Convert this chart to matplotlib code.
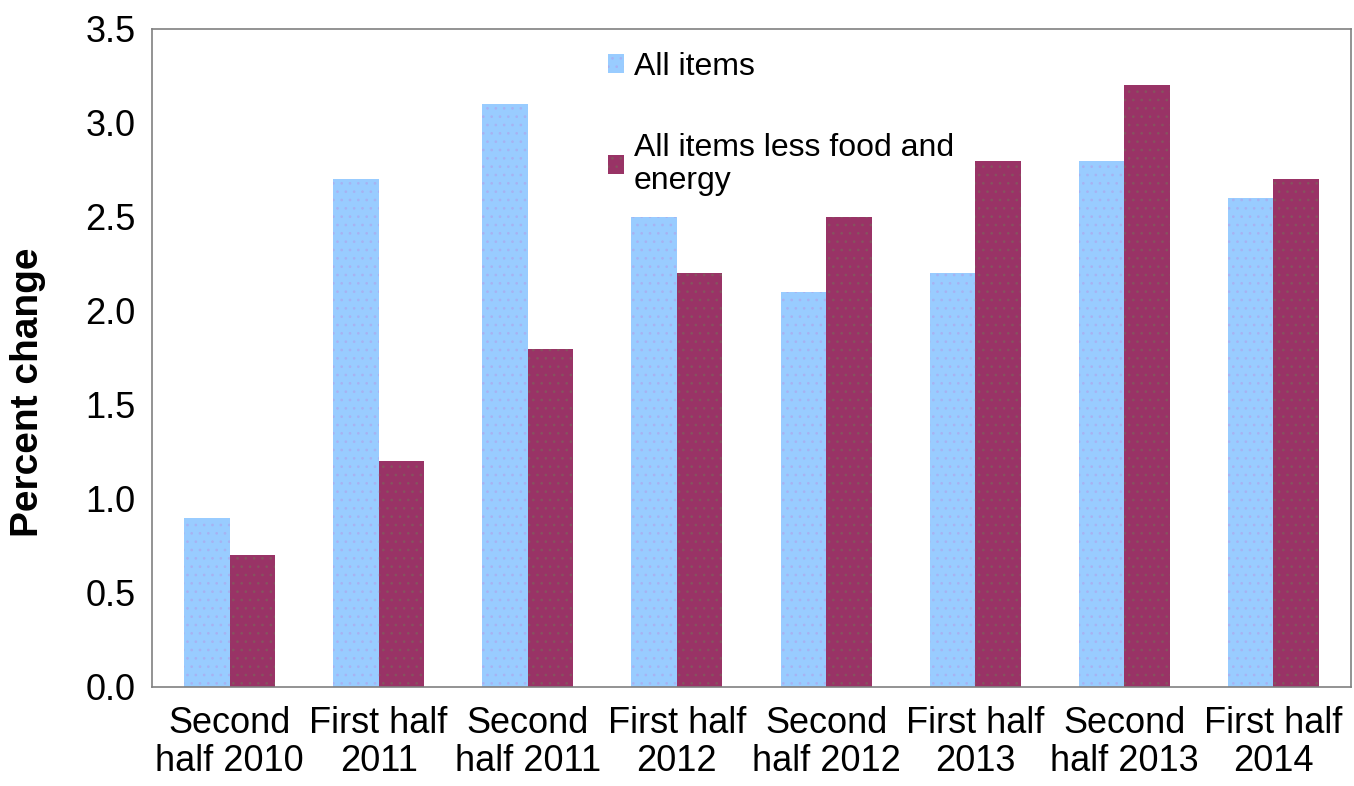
import matplotlib.pyplot as plt
import numpy as np

plt.rcParams['font.family'] = ['Liberation Sans', 'DejaVu Sans']
plt.rcParams['hatch.linewidth'] = 0.7

categories = ['Second\nhalf 2010', 'First half\n2011', 'Second\nhalf 2011', 'First half\n2012',
              'Second\nhalf 2012', 'First half\n2013', 'Second\nhalf 2013', 'First half\n2014']
all_items = [0.9, 2.7, 3.1, 2.5, 2.1, 2.2, 2.8, 2.6]
core_items = [0.7, 1.2, 1.8, 2.2, 2.5, 2.8, 3.2, 2.7]

x = np.arange(len(categories))
w = 0.305

fig = plt.figure(figsize=(13.54, 7.86), dpi=100)
ax = fig.add_axes([152 / 1354, 1 - 687 / 786, 1199 / 1354, 658 / 786])

ax.bar(x - w / 2, all_items, w, color='#99ccff', edgecolor='#a7b2f2', linewidth=0,
       hatch='..', label='All items')
ax.bar(x + w / 2, core_items, w, color='#993366', edgecolor='#86545f', linewidth=0,
       hatch='..', label='All items less food and\nenergy')

ax.set_xlim(-0.52, len(categories) - 0.48)
ax.set_ylim(0, 3.5)
ax.set_yticks(np.arange(0, 3.51, 0.5))
ax.set_yticklabels([f'{v:.1f}' for v in np.arange(0, 3.51, 0.5)], fontsize=26)
ax.set_xticks(x)
ax.set_xticklabels(categories, fontsize=26, linespacing=1.1)
ax.tick_params(length=0, pad=14)
ax.tick_params(axis='y', pad=12)

ax.set_ylabel('Percent change', fontsize=28, fontweight='bold')
ax.yaxis.set_label_coords(-0.088, 0.448)

for s in ax.spines.values():
    s.set_color('#808080')
    s.set_linewidth(1.2)

leg = ax.legend(loc='upper left', bbox_to_anchor=(0.37, 0.985), frameon=False,
                fontsize=23, handlelength=0.5, handleheight=0.55, handletextpad=0.3,
                labelspacing=1.6, borderaxespad=0)
for t in leg.get_texts():
    t.set_linespacing(1.15)

plt.savefig('out.png', dpi=100)
plt.close()
